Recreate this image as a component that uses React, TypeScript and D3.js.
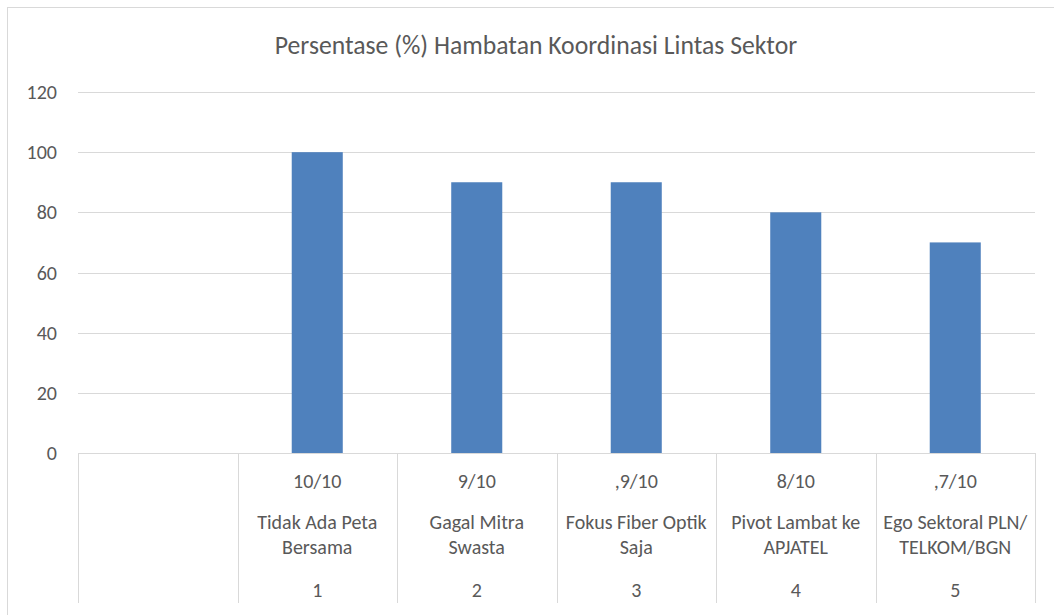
import React from 'react';
import * as d3 from 'd3';

const W = 1054;
const H = 615;

// category levels (first slot is empty in the source chart)
const categories = ['', 'c1', 'c2', 'c3', 'c4', 'c5'];
const scoreLabels = ['', '10/10', '9/10', ',9/10', '8/10', ',7/10'];
const nameLabels = [
  [],
  ['Tidak Ada Peta', 'Bersama'],
  ['Gagal Mitra', 'Swasta'],
  ['Fokus Fiber Optik', 'Saja'],
  ['Pivot Lambat ke', 'APJATEL'],
  ['Ego Sektoral PLN/', 'TELKOM/BGN'],
];
const numberLabels = ['', '1', '2', '3', '4', '5'];
const values = [null, 100, 90, 90, 80, 70];
const yTicks = [0, 20, 40, 60, 80, 100, 120];

const FONT = "Carlito, Calibri, Lato, sans-serif";
const TEXT = '#595959';
const GRID = '#d9d9d9';

const margin = { left: 78, right: 1035, top: 92, bottom: 453 };

export default function App() {
  const x = d3.scaleBand<string>()
    .domain(categories)
    .range([margin.left, margin.right])
    .paddingInner(0)
    .paddingOuter(0);
  const y = d3.scaleLinear().domain([0, 120]).range([margin.bottom, margin.top]);
  const bw = x.bandwidth() * 0.32;

  return (
    <div style={{ position: 'fixed', left: 0, top: 0, width: W, height: H, background: '#fff' }}>
      <svg width={W} height={H} style={{ display: 'block' }} fontFamily={FONT}>
        <rect x={7.5} y={7.5} width={W + 10} height={H + 10} fill="#fff" stroke={GRID} strokeWidth={1} />
        <text x={536} y={54} textAnchor="middle" fontSize={25.7} fill={TEXT}>
          Persentase (%) Hambatan Koordinasi Lintas Sektor
        </text>

        {yTicks.map(t => (
          <g key={t}>
            {t > 0 && (
              <line x1={margin.left} x2={margin.right} y1={Math.round(y(t)) + 0.5} y2={Math.round(y(t)) + 0.5} stroke={GRID} />
            )}
            <text x={57} y={y(t) + 7} textAnchor="end" fontSize={20} fill={TEXT}>{t}</text>
          </g>
        ))}

        {categories.map((c, i) => {
          const v = values[i];
          if (v == null) return null;
          const cx = (x(c) as number) + x.bandwidth() / 2;
          return <rect key={c} x={cx - bw / 2} y={y(v)} width={bw} height={y(0) - y(v)} fill="#4f81bd" />;
        })}

        {/* category axis */}
        <line x1={margin.left} x2={margin.right} y1={margin.bottom + 0.5} y2={margin.bottom + 0.5} stroke={GRID} />
        {categories.map(c => (
          <line key={'d' + c} x1={Math.round(x(c) as number) + 0.5} x2={Math.round(x(c) as number) + 0.5}
            y1={margin.bottom} y2={603} stroke={GRID} />
        ))}
        <line x1={margin.right + 0.5} x2={margin.right + 0.5} y1={margin.bottom} y2={603} stroke={GRID} />

        {categories.map((c, i) => {
          const cx = (x(c) as number) + x.bandwidth() / 2;
          return (
            <g key={'l' + c} fontSize={20} fill={TEXT} textAnchor="middle">
              <text x={cx} y={488}>{scoreLabels[i]}</text>
              {nameLabels[i].map((s, j) => (
                <text key={j} x={cx} y={529 + j * 25}>{s}</text>
              ))}
              <text x={cx} y={597}>{numberLabels[i]}</text>
            </g>
          );
        })}
      </svg>
    </div>
  );
}
